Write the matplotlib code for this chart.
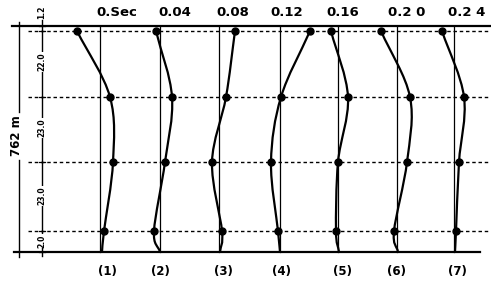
import numpy as np
import matplotlib.pyplot as plt
from matplotlib.path import Path
from matplotlib.patches import PathPatch

# picture space: x = column position + displacement, y = depth (px from top)
levels = [31, 97, 162, 231, 252]          # the 4 dotted levels + base
top_y, base_y = 26, 252
columns = [100, 160, 219, 280, 338, 397, 454]
times = ["0.Sec", "0.04", "0.08", "0.12", "0.16", "0.2 0", "0.2 4"]
time_x = [117, 175, 233, 287, 343, 407, 467]
col_labels = ["(1)", "(2)", "(3)", "(4)", "(5)", "(6)", "(7)"]
col_label_x = [107, 160, 223, 282, 343, 397, 457]

# displacement of each level from the column line
disp = [
    [-23, 10, 13, 4, 2],
    [-4, 12, 5, -6, 0],
    [16, 7, -7, 3, 1],
    [30, 1, -9, -2, 0],
    [-7, 10, 0, -2, 1],
    [-16, 13, 10, -3, 1],
    [-12, 10, 5, 2, 1],
]

layer_y = [12, 62, 128, 196, 241]
layer_txt = ["1.2", "22.0", "23.0", "23.0", "2.0"]


def smooth_path(xs, ys):
    # catmull-rom through the points, drawn as bezier segments
    pts = np.column_stack([xs, ys]).astype(float)
    p = np.vstack([2 * pts[0] - pts[1], pts, 2 * pts[-1] - pts[-2]])
    verts = [pts[0]]
    codes = [Path.MOVETO]
    for i in range(1, len(p) - 2):
        c1 = p[i] + (p[i + 1] - p[i - 1]) / 6
        c2 = p[i + 1] - (p[i + 2] - p[i]) / 6
        verts += [c1, c2, p[i + 1]]
        codes += [Path.CURVE4] * 3
    return Path(verts, codes)


fig = plt.figure(figsize=(4.91, 2.89), dpi=100)
ax = fig.add_axes([0, 0, 1, 1])
ax.set_xlim(0, 491)
ax.set_ylim(289, 0)
ax.axis('off')

# frame lines
ax.plot([12, 490], [top_y, top_y], color='k', lw=1.6)
ax.plot([14, 480], [base_y, base_y], color='k', lw=1.6)
for y in levels[:4]:
    ax.plot([28, 490], [y, y], color='k', lw=1.0, ls=(0, (2.5, 2)))

# left dimension line
ax.plot([19, 19], [22, 112], color='k', lw=1.0)
ax.plot([19, 19], [160, 257], color='k', lw=1.0)
ax.text(17, 136, "762 m", rotation=90, ha='center', va='center',
        fontsize=8.5, fontweight='bold')

# layer scale
ax.plot([42, 42], [20, 256], color='k', lw=1.0)
for y in [26] + levels:
    ax.plot([39, 45], [y, y], color='k', lw=0.9)
for y, t in zip(layer_y, layer_txt):
    ax.text(42, y, t, rotation=90, ha='center', va='center', fontsize=5.5,
            fontweight='bold', bbox=dict(fc='white', ec='none', pad=0.5))

# columns
for cx, d in zip(columns, disp):
    ax.plot([cx, cx], [top_y, base_y], color='k', lw=0.9)
    xs = [cx + v for v in d]
    ax.add_patch(PathPatch(smooth_path(xs, levels), fc='none', ec='k', lw=1.6))
    ax.plot(xs[:4], levels[:4], 'o', color='k', ms=5)

for x, t in zip(time_x, times):
    ax.text(x, 13, t, ha='center', va='center', fontsize=9.5, fontweight='bold')
for x, t in zip(col_label_x, col_labels):
    ax.text(x, 272, t, ha='center', va='center', fontsize=8.5, fontweight='bold')

plt.savefig("out.png", dpi=100)
